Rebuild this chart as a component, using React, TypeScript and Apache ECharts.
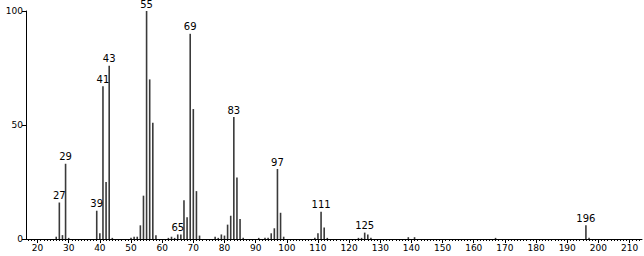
import React, { useEffect, useRef } from "react";
import * as echarts from "echarts";

const mz = [
  26, 27, 28, 29, 30, 39, 40, 41, 42, 43, 44, 50, 51, 52, 53, 54, 55, 56, 57, 58,
  62, 63, 64, 65, 66, 67, 68, 69, 70, 71, 72, 77, 78, 79, 80, 81, 82, 83, 84, 85,
  86, 91, 93, 94, 95, 96, 97, 98, 99, 109, 110, 111, 112, 113, 123, 124, 125, 126,
  127, 139, 141, 167, 196, 197,
];
const intensity = [
  1, 16, 1.7, 33, 0.5, 12.4, 2.5, 67, 25, 76, 0.5, 0.5, 1, 1, 6, 19, 100, 70, 51, 1.6,
  0.5, 1, 0.5, 2, 2, 17, 9.5, 90, 57, 21, 1.5, 1, 0.5, 2, 1.5, 6.3, 10.2, 53.5, 27, 8.8,
  0.5, 0.5, 0.5, 0.5, 2.5, 4.7, 30.7, 11.5, 1, 0.5, 2.5, 12, 5, 0.5, 0.5, 0.5, 2.8, 2,
  0.5, 0.8, 0.8, 0.5, 6, 0.5,
];
const labeledPeaks = [27, 29, 39, 41, 43, 55, 65, 69, 83, 97, 111, 125, 196];
const xMajorTicks = [20, 30, 40, 50, 60, 70, 80, 90, 100, 110, 120, 130, 140, 150, 160, 170, 180, 190, 200, 210];
const yTicks = [0, 50, 100];

export default function App() {
  const ref = useRef<HTMLDivElement>(null);
  useEffect(() => {
    if (!ref.current) return;
    const chart = echarts.init(ref.current, null, { renderer: "svg" });
    const xMin = 16.3;
    const xMax = 214;
    const minorTicks: number[] = [];
    for (let v = 17; v <= 213; v++) if (v % 10 !== 0) minorTicks.push(v);
    const font = "DejaVu Sans";
    chart.setOption({
      animation: false,
      grid: { left: 26, right: 2, top: 11, bottom: 17 },
      xAxis: [
        {
          type: "value",
          min: xMin,
          max: xMax,
          splitLine: { show: false },
          axisLine: { lineStyle: { color: "#000", width: 1 } },
          axisTick: { customValues: xMajorTicks, length: 4, lineStyle: { color: "#000" } },
          axisLabel: {
            customValues: xMajorTicks,
            color: "#000",
            fontFamily: font,
            fontSize: 9,
            margin: 4,
          },
        },
        {
          type: "value",
          min: xMin,
          max: xMax,
          position: "bottom",
          splitLine: { show: false },
          axisLine: { show: false },
          axisTick: { customValues: minorTicks, length: 2, lineStyle: { color: "#000" } },
          axisLabel: { show: false },
        },
      ],
      yAxis: {
        type: "value",
        min: 0,
        max: 100,
        interval: 50,
        splitLine: { show: false },
        axisLine: { show: true, lineStyle: { color: "#000" } },
        axisTick: { show: true, length: 4, customValues: yTicks, lineStyle: { color: "#000" } },
        axisLabel: { color: "#000", fontFamily: font, fontSize: 9, margin: 3 },
      },
      series: [
        {
          type: "bar",
          xAxisIndex: 0,
          barWidth: 1.6,
          itemStyle: { color: "#3a3a3a" },
          data: mz.map((m, i) => ({
            value: [m, intensity[i]],
            label: labeledPeaks.includes(m)
              ? {
                  show: true,
                  position: "top",
                  distance: 2,
                  formatter: String(m),
                  color: "#000",
                  fontFamily: font,
                  fontSize: 10,
                }
              : { show: false },
          })),
        },
      ],
    });
    return () => chart.dispose();
  }, []);
  return (
    <div
      ref={ref}
      style={{ position: "absolute", left: 0, top: 0, width: 644, height: 256, background: "#fff" }}
    />
  );
}
